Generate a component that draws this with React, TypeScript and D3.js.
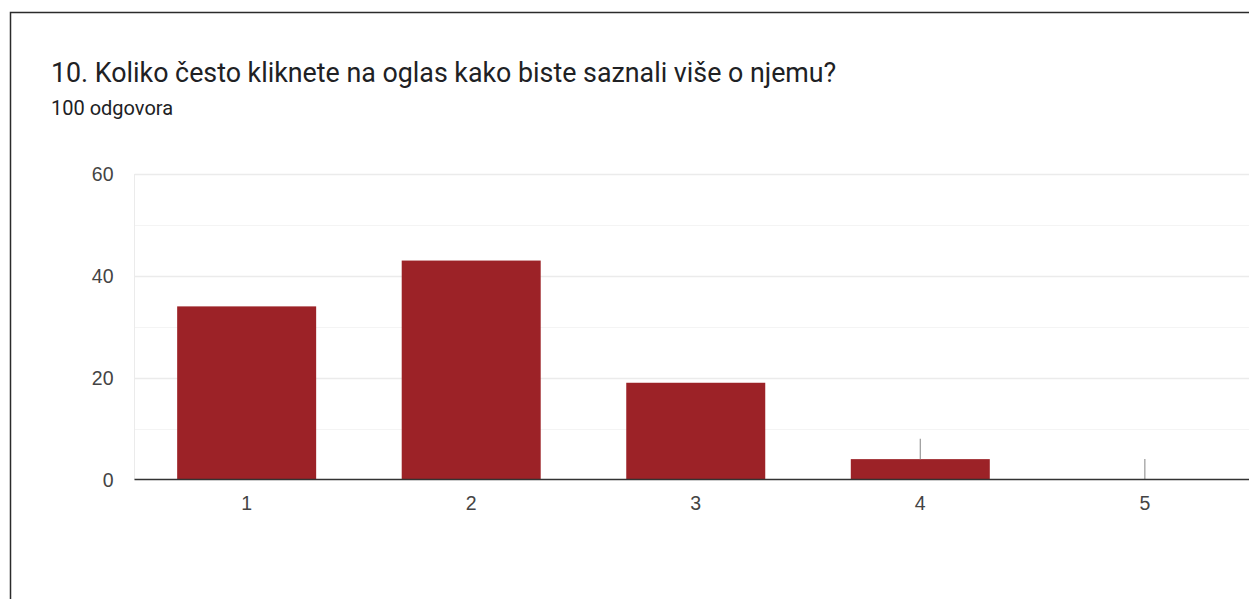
import React, {useEffect, useRef} from 'react';
import * as d3 from 'd3';

const categories = ['1', '2', '3', '4', '5'];
const counts = [34, 43, 19, 4, 0];
const yTicks = [0, 20, 40, 60];
const minorTicks = [10, 30, 50];
const title = '10. Koliko često kliknete na oglas kako biste saznali više o njemu?';
const subtitle = '100 odgovora';

export default function App() {
    const svgRef = useRef<SVGSVGElement>(null);

    useEffect(() => {
        const svg = d3.select(svgRef.current);
        svg.selectAll('*').remove();
        const W = 1249, H = 599;
        const left = 134.5, top = 174, bottom = 479.5;
        const step = 224.5;
        const axisFont = '"Liberation Sans", Arial, sans-serif';

        const x = d3.scaleBand<string>()
            .domain(categories)
            .range([left, left + step * categories.length])
            .paddingInner(0.381)
            .paddingOuter(0.19);
        const y = d3.scaleLinear().domain([0, 60]).range([bottom, top]);

        svg.append('rect').attr('width', W).attr('height', H).attr('fill', '#fff');

        // card frame
        svg.append('path')
            .attr('d', `M10.5,${H} V12.5 H${W}`)
            .attr('fill', 'none')
            .attr('stroke', '#2b2b2b')
            .attr('stroke-width', 1.5);

        svg.append('text')
            .attr('x', 51).attr('y', 82)
            .attr('font-family', 'Roboto, sans-serif')
            .attr('font-size', 26.8)
            .attr('fill', '#202124')
            .text(title);
        svg.append('text')
            .attr('x', 51).attr('y', 114.5)
            .attr('font-family', 'Roboto, sans-serif')
            .attr('font-size', 20)
            .attr('fill', '#202124')
            .text(subtitle);

        const g = svg.append('g');
        g.selectAll('.minor')
            .data(minorTicks)
            .join('line')
            .attr('x1', left).attr('x2', W)
            .attr('y1', d => Math.round(y(d)) + 0.5).attr('y2', d => Math.round(y(d)) + 0.5)
            .attr('stroke', '#f4f4f4');
        g.selectAll('.major')
            .data(yTicks.filter(t => t > 0))
            .join('line')
            .attr('x1', left).attr('x2', W)
            .attr('y1', d => Math.round(y(d)) + 0.5).attr('y2', d => Math.round(y(d)) + 0.5)
            .attr('stroke', '#ebebeb')
            .attr('stroke-width', 1.3);
        g.append('line')
            .attr('x1', left).attr('x2', left)
            .attr('y1', y(60)).attr('y2', bottom)
            .attr('stroke', '#ebebeb');

        g.selectAll('.ylab')
            .data(yTicks)
            .join('text')
            .attr('x', 113.5)
            .attr('y', d => y(d) + 7)
            .attr('text-anchor', 'end')
            .attr('font-family', axisFont)
            .attr('font-size', 19.5)
            .attr('fill', '#444')
            .text(d => d);

        g.selectAll('.bar')
            .data(counts)
            .join('rect')
            .attr('x', (d, i) => x(categories[i])!)
            .attr('width', x.bandwidth())
            .attr('y', d => y(d))
            .attr('height', d => bottom - y(d))
            .attr('fill', '#9c2227');

        // small stems shown above the tiny bars
        g.selectAll('.stem')
            .data(counts.map((c, i) => ({c, i})).filter(d => d.c < 5))
            .join('line')
            .attr('x1', d => x(categories[d.i])! + x.bandwidth() / 2)
            .attr('x2', d => x(categories[d.i])! + x.bandwidth() / 2)
            .attr('y1', d => y(d.c))
            .attr('y2', d => y(d.c) - 20.5)
            .attr('stroke', '#999')
            .attr('stroke-width', 1.2);

        g.append('line')
            .attr('x1', left).attr('x2', W)
            .attr('y1', bottom).attr('y2', bottom)
            .attr('stroke', '#333')
            .attr('stroke-width', 1.5);

        g.selectAll('.xlab')
            .data(categories)
            .join('text')
            .attr('x', d => x(d)! + x.bandwidth() / 2)
            .attr('y', 510)
            .attr('text-anchor', 'middle')
            .attr('font-family', axisFont)
            .attr('font-size', 19.5)
            .attr('fill', '#444')
            .text(d => d);
    }, []);

    return (
        <svg ref={svgRef} width={1249} height={599}
             style={{position: 'fixed', left: 0, top: 0, display: 'block'}}/>
    );
}
